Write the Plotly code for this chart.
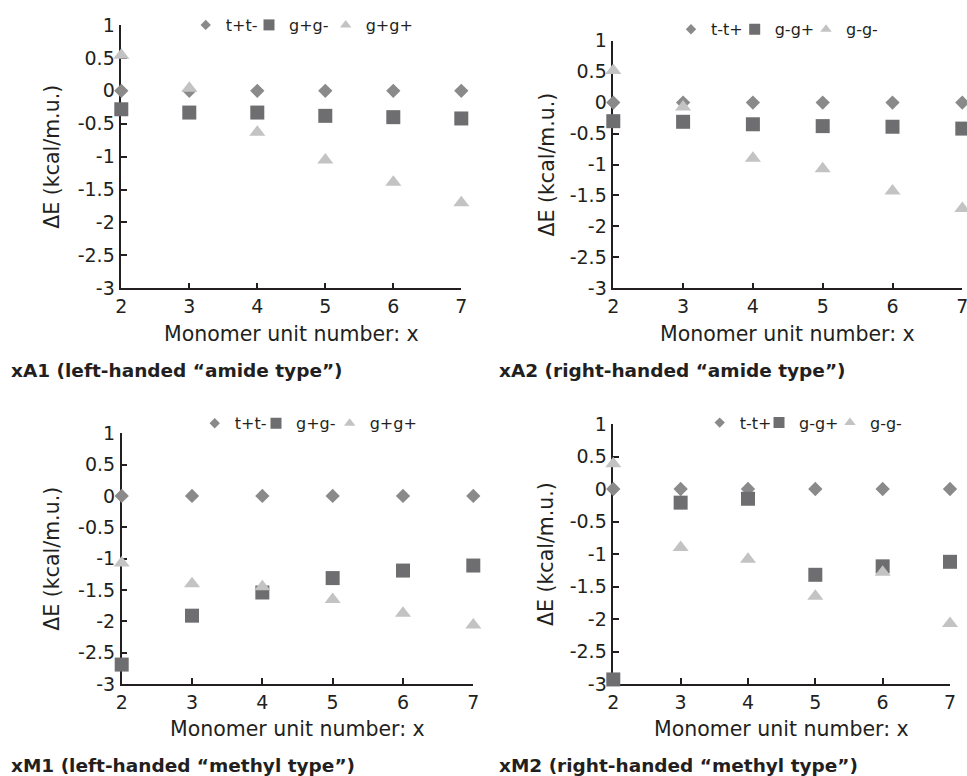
import plotly.graph_objects as go

# ---------------- data ----------------
x_units = [2, 3, 4, 5, 6, 7]

# xA1 (left-handed "amide type")
xA1_names = ["t+t-", "g+g-", "g+g+"]
xA1_tt = [0, 0, 0, 0, 0, 0]
xA1_gg_mixed = [-0.28, -0.33, -0.33, -0.38, -0.40, -0.42]
xA1_gg_same = [0.54, 0.04, -0.63, -1.05, -1.39, -1.70]

# xA2 (right-handed "amide type")
xA2_names = ["t-t+", "g-g+", "g-g-"]
xA2_tt = [0, 0, 0, 0, 0, 0]
xA2_gg_mixed = [-0.30, -0.31, -0.35, -0.38, -0.39, -0.42]
xA2_gg_same = [0.52, -0.07, -0.90, -1.07, -1.43, -1.71]

# xM1 (left-handed "methyl type")
xM1_names = ["t+t-", "g+g-", "g+g+"]
xM1_tt = [0, 0, 0, 0, 0, 0]
xM1_gg_mixed = [-2.69, -1.91, -1.54, -1.31, -1.19, -1.11]
xM1_gg_same = [-1.07, -1.40, -1.45, -1.65, -1.87, -2.06]

# xM2 (right-handed "methyl type")
xM2_names = ["t-t+", "g-g+", "g-g-"]
xM2_tt = [0, 0, 0, 0, 0, 0]
xM2_gg_mixed = [-2.93, -0.21, -0.15, -1.32, -1.19, -1.12]
xM2_gg_same = [0.39, -0.90, -1.08, -1.65, -1.28, -2.07]

captions = [
    "xA1 (left-handed \u201camide type\u201d)",
    "xA2 (right-handed \u201camide type\u201d)",
    "xM1 (left-handed \u201cmethyl type\u201d)",
    "xM2 (right-handed \u201cmethyl type\u201d)",
]
x_title = "Monomer unit number: x"
y_title = "\u0394E (kcal/m.u.)"

x_tick_vals = [2, 3, 4, 5, 6, 7]
x_tick_text = ["2", "3", "4", "5", "6", "7"]
y_tick_vals = [1, 0.5, 0, -0.5, -1, -1.5, -2, -2.5, -3]
y_tick_text = ["1", "0.5", "0", "-0.5", "-1", "-1.5", "-2", "-2.5", "-3"]

# ---------------- style / layout ----------------
W, H = 967, 776
FONT = "DejaVu Sans"
INK = "#231f20"
C_DIAMOND = "#8a8a8a"
C_SQUARE = "#6e6e70"
C_TRIANGLE = "#c3c3c3"

def fx(p):
    return p / W

def fy(p):
    return 1 - p / H

# panel boxes in pixels: (left, right, top, bottom)
boxes = [
    (121.3, 461.3, 25.0, 288.3),
    (613.3, 962.3, 40.7, 288.3),
    (121.7, 473.3, 433.3, 684.0),
    (613.3, 950.0, 424.0, 684.0),
]
# legend: text start of each entry (px) and row centre (px)
legend_text_x = [
    [222.7, 286.0, 362.7],
    [708.0, 771.7, 843.0],
    [231.7, 293.0, 366.7],
    [736.7, 796.0, 867.0],
]
legend_row_y = [25, 29.3, 423.3, 422.7]
ytitle_x = [52, 546, 52, 546]
xtitle_y = [334, 334, 728.5, 728.5]
caption_pos = [(9, 370), (497, 370), (9, 765), (497, 765)]

panels = [
    (xA1_names, xA1_tt, xA1_gg_mixed, xA1_gg_same),
    (xA2_names, xA2_tt, xA2_gg_mixed, xA2_gg_same),
    (xM1_names, xM1_tt, xM1_gg_mixed, xM1_gg_same),
    (xM2_names, xM2_tt, xM2_gg_mixed, xM2_gg_same),
]

fig = go.Figure()
layout = dict(
    width=W, height=H,
    margin=dict(l=0, r=0, t=0, b=0, autoexpand=False),
    paper_bgcolor="white", plot_bgcolor="white",
    font=dict(family=FONT, color=INK, size=18),
    showlegend=True,
    annotations=[],
)

symbols = ["diamond", "square", "triangle-up"]
colors = [C_DIAMOND, C_SQUARE, C_TRIANGLE]
sizes = [11, 14, 14]
leg_sizes = [8, 11, 10]

leg_count = 0
for i, (names, s1, s2, s3) in enumerate(panels):
    k = "" if i == 0 else str(i + 1)
    xa, ya = "x" + k, "y" + k
    for j, series in enumerate([s1, s2, s3]):
        fig.add_trace(go.Scatter(
            x=x_units, y=series, mode="markers", name=names[j],
            xaxis=xa, yaxis=ya, showlegend=False, cliponaxis=False,
            marker=dict(symbol=symbols[j], color=colors[j], size=sizes[j],
                        line=dict(width=0)),
        ))
    # legend entries (one small legend per entry, smaller symbols as in the original)
    for j in range(3):
        leg_count += 1
        leg = "legend" if leg_count == 1 else "legend" + str(leg_count)
        fig.add_trace(go.Scatter(
            x=[None], y=[None], mode="markers", name=names[j],
            xaxis=xa, yaxis=ya, showlegend=True, legend=leg,
            marker=dict(symbol=symbols[j], color=colors[j], size=leg_sizes[j],
                        line=dict(width=0)),
        ))
        layout[leg] = dict(
            orientation="h", x=fx(legend_text_x[i][j] - 37), y=fy(legend_row_y[i]),
            xanchor="left", yanchor="middle",
            bgcolor="rgba(0,0,0,0)", borderwidth=0,
            font=dict(size=16, family=FONT, color=INK),
            itemwidth=30, tracegroupgap=0,
        )

    l, r, t, b = boxes[i]
    axis_common = dict(
        showline=True, linecolor=INK, linewidth=1.5,
        ticks="inside", ticklen=6, tickwidth=1.5, tickcolor=INK,
        showgrid=False, zeroline=False, layer="below traces",
        tickfont=dict(size=19, family=FONT, color=INK),
        fixedrange=True, automargin=False, ticklabeloverflow="allow",
    )
    layout["xaxis" + k] = dict(
        domain=[fx(l), fx(r)], range=[2, 7], anchor=ya,
        tickmode="array", tickvals=x_tick_vals, ticktext=x_tick_text,
        **axis_common,
    )
    layout["yaxis" + k] = dict(
        domain=[fy(b), fy(t)], range=[-3, 1], anchor=xa,
        tickmode="array", tickvals=y_tick_vals, ticktext=y_tick_text,
        ticklabelstandoff=1,
        **axis_common,
    )
    # axis titles
    layout["annotations"].append(dict(
        text=x_title, x=fx((l + r) / 2), y=fy(xtitle_y[i]),
        xref="paper", yref="paper", xanchor="center", yanchor="middle",
        showarrow=False, font=dict(size=20.5, family=FONT, color=INK),
    ))
    layout["annotations"].append(dict(
        text=y_title, x=fx(ytitle_x[i]), y=fy((t + b) / 2),
        xref="paper", yref="paper", xanchor="center", yanchor="middle",
        textangle=-90, showarrow=False,
        font=dict(size=20.5, family=FONT, color=INK),
    ))
    cx, cy = caption_pos[i]
    layout["annotations"].append(dict(
        text="<b>" + captions[i] + "</b>", x=fx(cx), y=fy(cy),
        xref="paper", yref="paper", xanchor="left", yanchor="middle",
        showarrow=False, font=dict(size=18.5, family=FONT, color=INK),
    ))

fig.update_layout(**layout)
# remove the default 8px page margin so the figure sits at the window's corner
fig.write_html(
    "out.html",
    config={"displayModeBar": False},
    post_script="document.body.style.margin='0';document.body.style.overflow='hidden';",
)
